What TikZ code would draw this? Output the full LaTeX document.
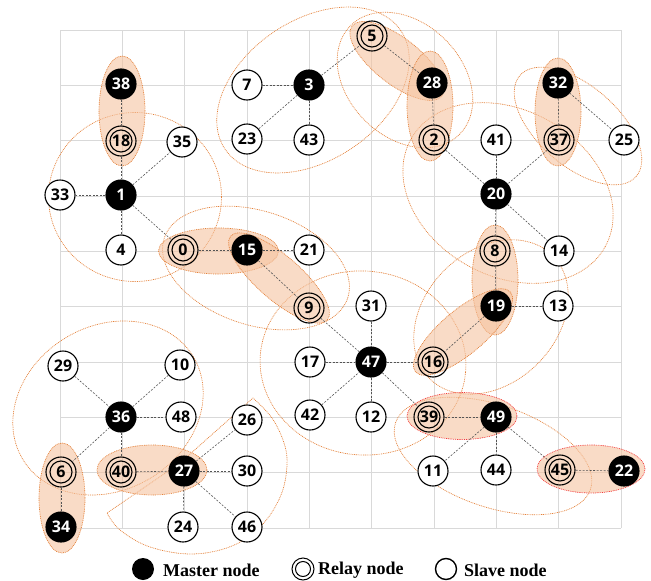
\documentclass[tikz,border=0pt]{standalone}
\usepackage{fontspec}
\setmainfont{Liberation Serif}
\newfontfamily\nodefont{Open Sans}
\definecolor{gridc}{HTML}{D9D9D9}
\definecolor{orl}{HTML}{E4813A}
\definecolor{redl}{HTML}{F23A3A}
\definecolor{peach}{HTML}{F5C3A0}
\definecolor{edgec}{HTML}{555555}
\tikzset{
  gridline/.style={draw=gridc, line width=0.8pt},
  clus/.style={draw=orl, line width=0.7pt, dash pattern=on 0.9pt off 0.9pt},
  pair/.style={clus, fill=peach, fill opacity=0.6},
  redpair/.style={pair, draw=redl},
  edge/.style={draw=edgec, line width=0.6pt, dash pattern=on 2pt off 1.5pt},
  base/.style={circle, minimum size=30pt, inner sep=0pt, line width=1.1pt,
    font=\nodefont\bfseries\fontsize{16}{16}\selectfont},
  master/.style={base, draw=black, fill=black, text=white},
  slave/.style={base, draw=black, fill=white},
  relay/.style={base, draw=black},
  legtext/.style={anchor=west, inner sep=0pt, font=\bfseries\fontsize{18}{18}\selectfont}
}
\begin{document}
\begin{tikzpicture}[x=1pt, y=-1pt]
\useasboundingbox (0,0) rectangle (651,581);
% grid
\foreach \i in {0,...,9} {
  \draw[gridline] ({60+62.333*\i},30) -- ({60+62.333*\i},528);
  \draw[gridline] (60,{30+55.333*\i}) -- (621,{30+55.333*\i});
}
% cluster outlines
\draw[clus] (135,197) ellipse [x radius=86.5pt, y radius=84.5pt];
\draw[clus, rotate around={34:(313,90)}] (313,90) ellipse [x radius=106pt, y radius=70pt];
\draw[clus, rotate around={-45:(405,80)}] (405,80) ellipse [x radius=77pt, y radius=57pt];
\draw[clus, rotate around={-29:(508,193)}] (508,193) ellipse [x radius=111pt, y radius=83pt];
\draw[clus, rotate around={-41:(578,126)}] (578,126) ellipse [x radius=77pt, y radius=40pt];
\draw[clus, rotate around={-18:(256,268)}] (256,268) ellipse [x radius=96.5pt, y radius=57pt];
\draw[clus, rotate around={-5:(363,363)}] (363,363) ellipse [x radius=103pt, y radius=92pt];
\draw[clus, rotate around={45:(491,317)}] (491,317) ellipse [x radius=87pt, y radius=66pt];
\draw[clus, rotate around={-19:(493,456)}] (493,456) ellipse [x radius=103pt, y radius=51pt];
\draw[clus, rotate around={31:(108,408)}] (108,408) ellipse [x radius=99.5pt, y radius=82pt];
\coordinate (pv) at (180,463);
\draw[clus] (pv) -- plot[smooth, tension=0.6] coordinates {(253,398) (272,418) (284,443) (287,465) (281,495) (262,525) (232,546) (192,554) (150,547) (120,530) (107,513)} -- cycle;
% relay-master pairs
\draw[pair] (122,111) ellipse [x radius=23pt, y radius=55pt];
\draw[pair] (218.5,251) ellipse [x radius=60pt, y radius=23pt];
\draw[pair, rotate around={-41:(279,278)}] (279,278) ellipse [x radius=64pt, y radius=22pt];
\draw[pair, rotate around={-38:(397,61)}] (397,61) ellipse [x radius=57pt, y radius=23pt];
\draw[pair] (430,106) ellipse [x radius=23pt, y radius=55pt];
\draw[pair] (558,112) ellipse [x radius=23pt, y radius=54pt];
\draw[pair] (495,280) ellipse [x radius=23pt, y radius=55pt];
\draw[pair, rotate around={40:(463,332)}] (463,332) ellipse [x radius=62pt, y radius=22pt];
\draw[redpair] (462,416) ellipse [x radius=55pt, y radius=23.5pt];
\draw[redpair] (591,469) ellipse [x radius=54pt, y radius=24pt];
\draw[pair] (62,498) ellipse [x radius=23pt, y radius=55pt];
\draw[pair] (152,470) ellipse [x radius=55pt, y radius=25pt];
% nodes
\node[master] (n38) at (121,84) {38};
\node[relay]  (n18) at (121,141) {18};
\node[slave]  (n35) at (182,142) {35};
\node[slave]  (n33) at (60,195) {33};
\node[master] (n1)  at (121,195) {1};
\node[slave]  (n4)  at (121,250) {4};
\node[relay]  (n0)  at (183,250) {0};
\node[master] (n15) at (247,250) {15};
\node[slave]  (n21) at (309,250) {21};
\node[slave]  (n7)  at (247,85) {7};
\node[master] (n3)  at (309,85) {3};
\node[slave]  (n23) at (247,139) {23};
\node[slave]  (n43) at (309,140) {43};
\node[relay]  (n5)  at (372,36) {5};
\node[master] (n28) at (432,83) {28};
\node[relay]  (n2)  at (434,140) {2};
\node[slave]  (n41) at (496,140) {41};
\node[master] (n32) at (558,83) {32};
\node[relay]  (n37) at (559,140) {37};
\node[slave]  (n25) at (624,140) {25};
\node[master] (n20) at (496,194) {20};
\node[relay]  (n8)  at (495,251) {8};
\node[slave]  (n14) at (559,251) {14};
\node[master] (n19) at (496,306) {19};
\node[slave]  (n13) at (558,306) {13};
\node[relay]  (n9)  at (309,308) {9};
\node[slave]  (n31) at (371,306) {31};
\node[slave]  (n17) at (310,362) {17};
\node[master] (n47) at (371,362) {47};
\node[relay]  (n16) at (433,362) {16};
\node[slave]  (n42) at (310,415) {42};
\node[slave]  (n12) at (371,417) {12};
\node[relay]  (n39) at (429,417) {39};
\node[master] (n49) at (496,417) {49};
\node[slave]  (n11) at (433,471) {11};
\node[slave]  (n44) at (496,470) {44};
\node[relay]  (n45) at (560,470) {45};
\node[master] (n22) at (624,471) {22};
\node[slave]  (n29) at (63,366) {29};
\node[slave]  (n10) at (180,365) {10};
\node[master] (n36) at (121,417) {36};
\node[slave]  (n48) at (181,417) {48};
\node[slave]  (n26) at (247,420) {26};
\node[relay]  (n6)  at (61,472) {6};
\node[relay]  (n40) at (121,472) {40};
\node[master] (n27) at (184,471) {27};
\node[slave]  (n30) at (247,471) {30};
\node[master] (n34) at (61,527) {34};
\node[slave]  (n24) at (183,527) {24};
\node[slave]  (n46) at (247,527) {46};
\foreach \r in {18,0,5,2,37,8,16,9,39,45,6,40}
  \draw[line width=1.1pt] (n\r.center) circle (11pt);
% edges
\foreach \a/\b in {38/18,18/1,1/35,1/33,1/4,1/0,0/15,15/21,15/9,7/3,3/23,3/43,3/5,5/28,28/2,
  2/20,41/20,37/20,20/14,20/8,32/37,32/25,8/19,19/13,19/16,9/47,31/47,17/47,42/47,12/47,
  47/16,47/39,39/49,49/11,49/44,49/45,45/22,29/36,10/36,36/48,36/6,36/40,6/34,40/27,
  27/26,27/30,27/24,27/46}
  \draw[edge] (n\a) -- (n\b);
% legend
\node[circle, fill=black, minimum size=22pt, inner sep=0pt] (lm) at (143,569) {};
\node[legtext] (lmt) at (163,570) {Master node};
\node[circle, draw=black, line width=1pt, minimum size=22pt, inner sep=0pt] (lr) at (303,569) {};
\draw[line width=1pt] (lr.center) circle (7.5pt);
\node[legtext] (lrt) at (318,570) {Relay node};
\node[circle, draw=black, line width=1.4pt, minimum size=21pt, inner sep=0pt] (ls) at (446,569) {};
\node[legtext] (lst) at (464,570) {Slave node};
\end{tikzpicture}
\end{document}
